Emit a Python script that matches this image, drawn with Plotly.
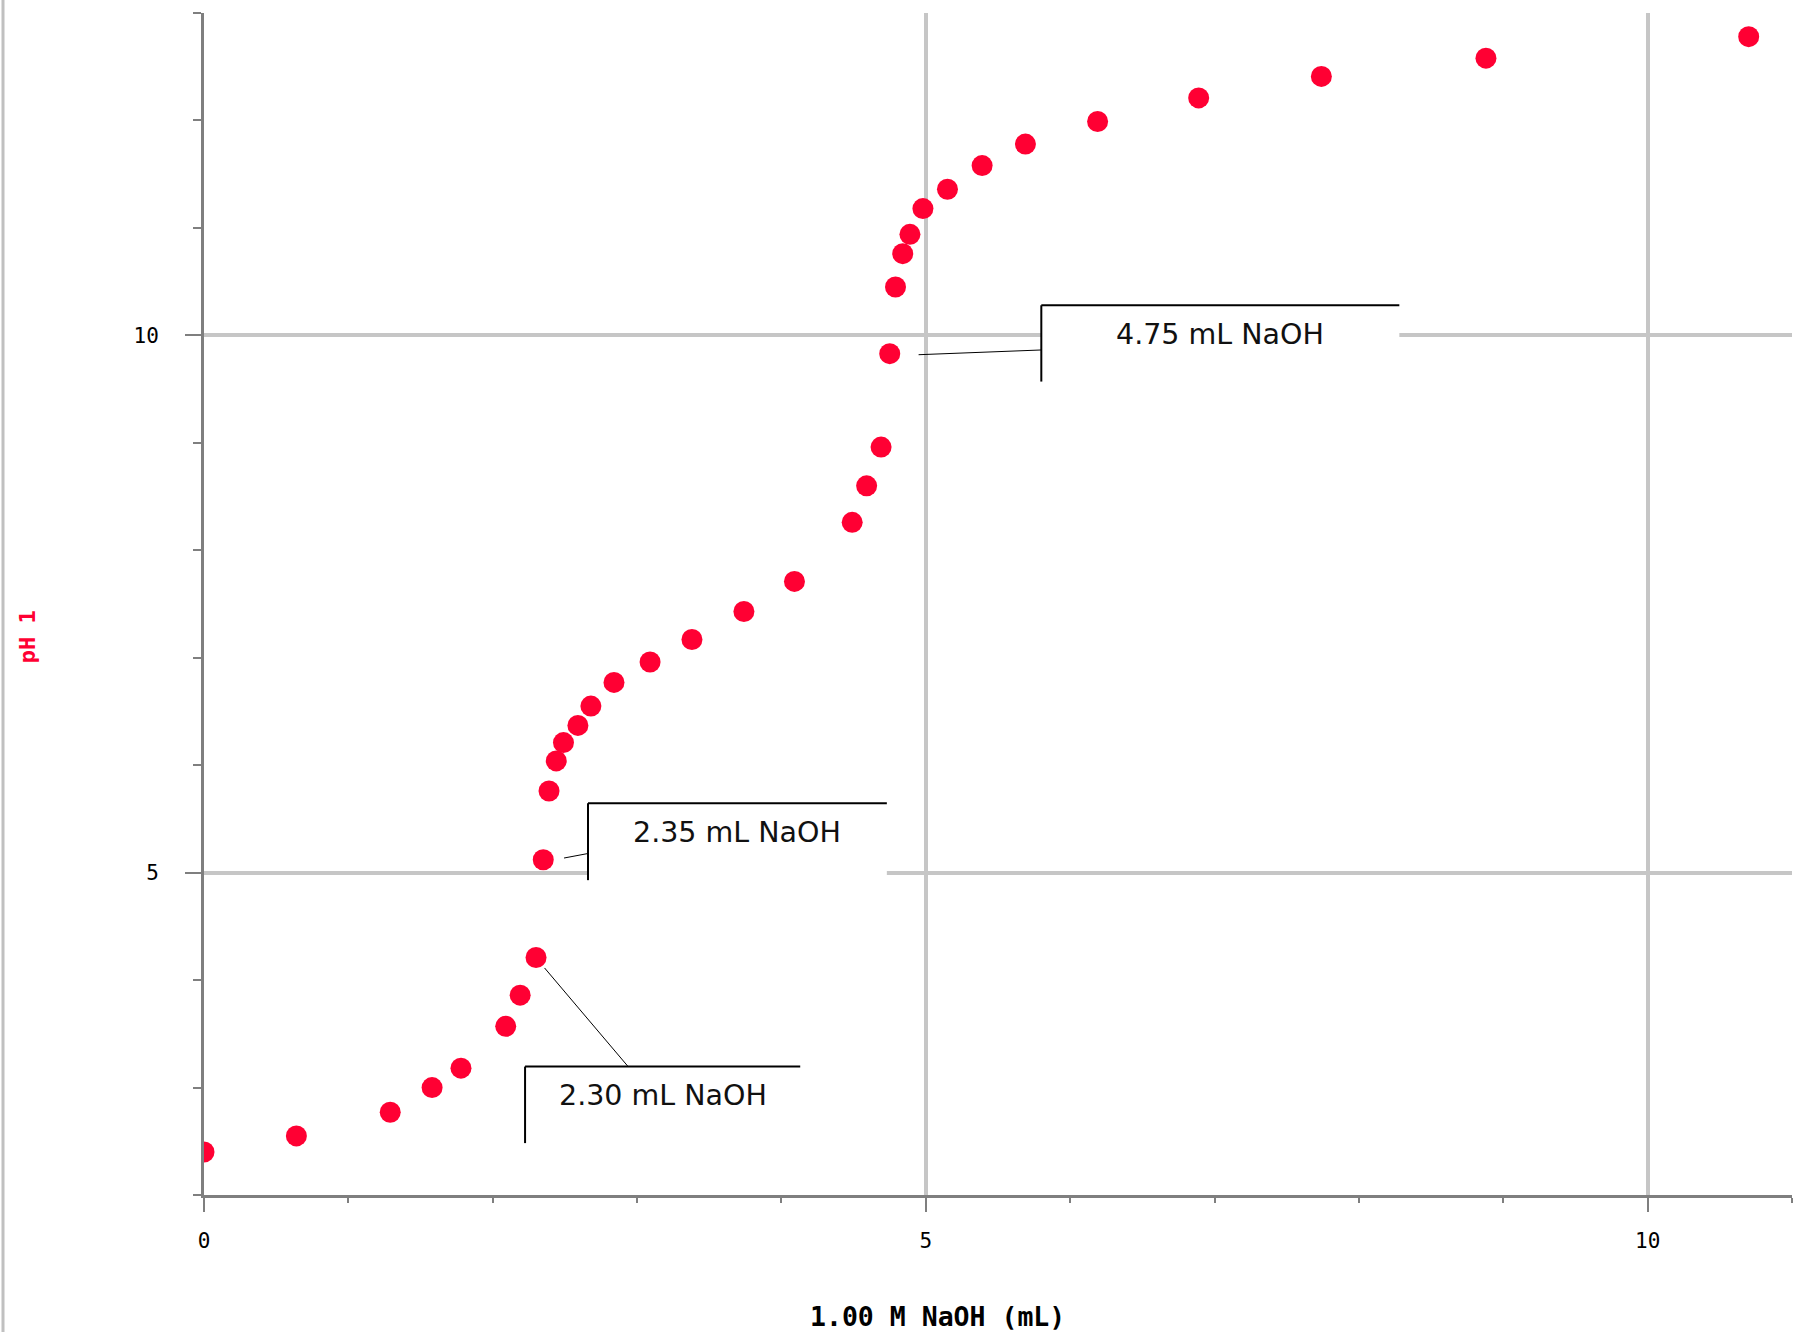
import plotly.graph_objects as go

# ---------------- data ----------------
volume_ml = [0.00, 0.64, 1.29, 1.58, 1.78, 2.09, 2.19, 2.30, 2.35, 2.39, 2.44, 2.49,
             2.59, 2.68, 2.84, 3.09, 3.38, 3.74, 4.09, 4.49, 4.59, 4.69, 4.75, 4.79,
             4.84, 4.89, 4.98, 5.15, 5.39, 5.69, 6.19, 6.89, 7.74, 8.88, 10.70]
ph_values = [2.40, 2.55, 2.77, 3.00, 3.18, 3.57, 3.86, 4.21, 5.12, 5.76, 6.04, 6.21,
             6.37, 6.55, 6.77, 6.96, 7.17, 7.43, 7.71, 8.26, 8.60, 8.96, 9.83, 10.45,
             10.76, 10.94, 11.18, 11.36, 11.58, 11.78, 11.99, 12.21, 12.41, 12.58, 12.78]

x_tick_vals = [0, 5, 10]
x_tick_text = ["0", "5", "10"]
y_tick_vals = [5, 10]
y_tick_text = ["5", "10"]

callout_labels = ["2.30 mL NaOH", "2.35 mL NaOH", "4.75 mL NaOH"]
box_left = [2.224, 2.66, 5.80]
box_right = [4.13, 4.73, 8.28]
box_top = [3.195, 5.646, 10.28]
box_bottom = [2.483, 4.93, 9.57]
leader_start_x = [2.359, 2.494, 4.95]
leader_start_y = [4.113, 5.136, 9.82]
leader_end_x = [2.938, 2.66, 5.80]
leader_end_y = [3.195, 5.178, 9.864]

x_title = "1.00 M NaOH (mL)"
y_title = "pH 1"

# ---------------- figure ----------------
W, H = 1794, 1332
ML, MR, MT, MB = 204, 2, 13, 137
X_RANGE = [0, 11]
Y_RANGE = [2, 13]

RED = "rgb(255,0,51)"
GRID = "#c6c6c6"
AXIS = "#7f7f7f"
TICKFONT = dict(family="DejaVu Sans Mono", size=21, color="black")

fig = go.Figure()
fig.add_trace(go.Scatter(
    x=volume_ml, y=ph_values, mode="markers",
    marker=dict(size=21, color=RED, line=dict(width=0)),
    showlegend=False, hoverinfo="x+y",
))

shapes = []
annotations = []
for i, lab in enumerate(callout_labels):
    # white box background (covers gridlines)
    shapes.append(dict(type="rect", xref="x", yref="y",
                       x0=box_left[i], x1=box_right[i], y0=box_bottom[i], y1=box_top[i],
                       fillcolor="white", line=dict(width=0), layer="above"))
    # top border
    shapes.append(dict(type="line", xref="x", yref="y",
                       x0=box_left[i], x1=box_right[i], y0=box_top[i], y1=box_top[i],
                       line=dict(color="black", width=2), layer="above"))
    # left border
    shapes.append(dict(type="line", xref="x", yref="y",
                       x0=box_left[i], x1=box_left[i], y0=box_bottom[i], y1=box_top[i],
                       line=dict(color="black", width=2), layer="above"))
    # leader line
    shapes.append(dict(type="line", xref="x", yref="y",
                       x0=leader_start_x[i], y0=leader_start_y[i],
                       x1=leader_end_x[i], y1=leader_end_y[i],
                       line=dict(color="black", width=1), layer="above"))
    annotations.append(dict(
        x=(box_left[i] + box_right[i]) / 2, y=box_top[i], xref="x", yref="y",
        text=lab, showarrow=False, xanchor="center", yanchor="middle", yshift=-29,
        font=dict(family="DejaVu Sans", size=28.5, color="#111111"),
    ))

# left page border line
shapes.append(dict(type="line", xref="paper", yref="paper",
                   x0=(3 - ML) / (W - ML - MR), x1=(3 - ML) / (W - ML - MR),
                   y0=-MB / (H - MT - MB), y1=1 + MT / (H - MT - MB),
                   line=dict(color="#c0c0c0", width=3), layer="above"))

# axis titles
annotations.append(dict(
    x=5.08, y=0, xref="x", yref="paper", yshift=-121,
    text="<b>" + x_title + "</b>", showarrow=False, xanchor="center", yanchor="middle",
    font=dict(family="DejaVu Sans Mono", size=26.5, color="black"),
))
annotations.append(dict(
    x=0, y=7.19, xref="paper", yref="y", xshift=-177,
    text="<b>" + y_title + "</b>", showarrow=False, xanchor="center", yanchor="middle",
    textangle=-90, font=dict(family="DejaVu Sans Mono", size=22, color=RED),
))

fig.update_layout(
    width=W, height=H,
    margin=dict(l=ML, r=MR, t=MT, b=MB, pad=0),
    paper_bgcolor="white", plot_bgcolor="white",
    shapes=shapes, annotations=annotations,
    xaxis=dict(
        range=X_RANGE, tickmode="array", tickvals=x_tick_vals, ticktext=x_tick_text,
        showgrid=True, gridcolor=GRID, gridwidth=4, zeroline=False,
        showline=True, linecolor=AXIS, linewidth=3,
        ticks="outside", ticklen=14, tickwidth=2, tickcolor=AXIS,
        tickfont=TICKFONT, ticklabelstandoff=11,
        minor=dict(dtick=1, tick0=0, ticks="outside", ticklen=5, tickwidth=2,
                   tickcolor=AXIS, showgrid=False),
        fixedrange=True,
    ),
    yaxis=dict(
        range=Y_RANGE, tickmode="array", tickvals=y_tick_vals, ticktext=y_tick_text,
        showgrid=True, gridcolor=GRID, gridwidth=4, zeroline=False,
        showline=True, linecolor=AXIS, linewidth=3,
        ticks="outside", ticklen=16, tickwidth=2, tickcolor=AXIS,
        tickfont=TICKFONT, ticklabelstandoff=22,
        minor=dict(dtick=1, tick0=0, ticks="outside", ticklen=8, tickwidth=2,
                   tickcolor=AXIS, showgrid=False),
        fixedrange=True,
    ),
)

fig.write_html(
    "out.html",
    config={"displayModeBar": False},
    post_script="document.body.style.margin='0';document.body.style.overflow='hidden';",
)
